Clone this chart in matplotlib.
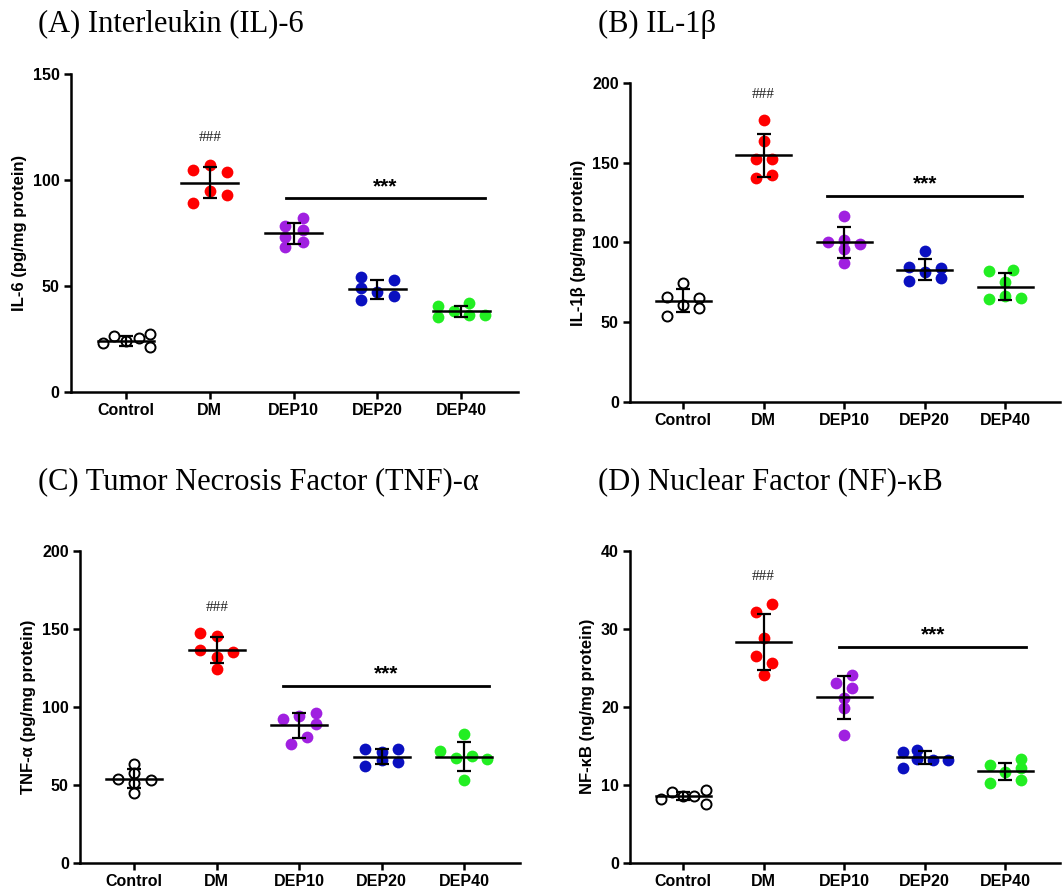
import matplotlib
matplotlib.use("Agg")
import matplotlib.pyplot as plt

groups = ["Control", "DM", "DEP10", "DEP20", "DEP40"]
colors = ["white", "#ff0000", "#a020e0", "#0a10c0", "#22ee22"]

# IL-6 (pg/mg protein)
il6_values = [
    [23.1, 26.2, 24.2, 25.3, 27.2, 21.2],
    [104.9, 107.3, 103.8, 94.9, 93.0, 89.1],
    [78.1, 82.0, 73.0, 76.2, 71.0, 68.2],
    [54.2, 49.0, 52.9, 47.1, 45.1, 43.2],
    [40.8, 38.0, 42.1, 35.3, 36.3, 36.3],
]
il6_mean = [24.2, 98.8, 74.8, 48.5, 38.0]
il6_sd = [2.3, 7.5, 5.0, 4.4, 2.75]
il6_jitter = [
    [-0.28, -0.14, 0, 0.15, 0.29, 0.29],
    [-0.2, 0, 0.2, 0, 0.2, -0.2],
    [-0.1, 0.11, -0.1, 0.11, 0.11, -0.1],
    [-0.2, -0.2, 0.2, 0, 0.2, -0.2],
    [-0.27, -0.09, 0.1, -0.27, 0.1, 0.29],
]

# IL-1beta (pg/mg protein)
il1b_values = [
    [65.8, 74.8, 64.9, 60.7, 58.6, 53.8],
    [176.8, 163.8, 152.3, 152.3, 140.7, 142.6],
    [116.9, 100.5, 101.6, 98.8, 95.7, 86.9],
    [94.9, 84.8, 81.3, 84.0, 76.0, 77.9],
    [81.9, 82.7, 75.0, 66.6, 64.3, 64.9],
]
il1b_mean = [63.5, 154.8, 100.1, 82.9, 72.3]
il1b_sd = [7.1, 13.6, 9.7, 6.6, 8.5]
il1b_jitter = [
    [-0.2, 0, 0.2, 0, 0.2, -0.2],
    [0, 0, -0.1, 0.1, -0.1, 0.1],
    [0, -0.2, 0, 0.2, 0, 0],
    [0, -0.2, 0, 0.2, -0.2, 0.2],
    [-0.2, 0.1, 0, 0, -0.2, 0.2],
]

# TNF-alpha (pg/mg protein)
tnf_values = [
    [53.8, 63.0, 57.3, 50.9, 53.0, 44.9],
    [147.0, 145.5, 136.1, 131.8, 135.0, 123.9],
    [92.1, 93.8, 96.2, 88.9, 80.8, 75.9],
    [73.1, 70.7, 73.1, 62.0, 65.8, 64.3],
    [71.4, 82.3, 68.6, 66.9, 66.2, 53.0],
]
tnf_mean = [53.8, 136.5, 88.0, 67.9, 67.9]
tnf_sd = [6.1, 8.3, 8.0, 4.9, 9.4]
tnf_jitter = [
    [-0.2, 0, 0, 0, 0.2, 0],
    [-0.2, 0, -0.2, 0, 0.2, 0],
    [-0.2, 0, 0.2, 0.2, 0.1, -0.1],
    [-0.2, 0, 0.2, -0.2, 0, 0.2],
    [-0.29, 0, 0.1, -0.1, 0.28, 0],
]

# NF-kB (ng/mg protein)
nfkb_values = [
    [8.2, 9.1, 8.5, 8.5, 9.3, 7.5],
    [32.1, 33.2, 28.8, 26.5, 25.6, 24.1],
    [23.1, 24.1, 22.4, 21.1, 19.8, 16.4],
    [14.2, 14.5, 13.3, 13.2, 13.2, 12.2],
    [12.5, 13.3, 11.6, 12.1, 10.2, 10.6],
]
nfkb_mean = [8.55, 28.3, 21.2, 13.5, 11.7]
nfkb_sd = [0.55, 3.65, 2.75, 0.8, 1.15]
nfkb_jitter = [
    [-0.28, -0.14, 0, 0.14, 0.29, 0.29],
    [-0.1, 0.1, 0, -0.1, 0.1, 0],
    [-0.1, 0.1, 0.1, 0, 0, 0],
    [-0.27, -0.1, -0.1, 0.1, 0.29, -0.27],
    [-0.19, 0.2, 0, 0.2, -0.19, 0.2],
]

titles = ["(A) Interleukin (IL)-6", "(B) IL-1\u03b2",
          "(C) Tumor Necrosis Factor (TNF)-\u03b1", "(D) Nuclear Factor (NF)-\u03baB"]
ylabels = ["IL-6 (pg/mg protein)", "IL-1\u03b2 (pg/mg protein)",
           "TNF-\u03b1 (pg/mg protein)", "NF-\u03baB (ng/mg protein)"]
ymax = [150, 200, 200, 40]
ystep = [50, 50, 50, 10]
sig_bar = [(1.905, 4.29, 91.4, 96.9, 120), (1.79, 4.21, 129.2, 136.8, 193),
           (1.80, 4.30, 113.2, 120.9, 163.7), (1.94, 4.26, 27.7, 29.2, 36.7)]

panels = [
    (il6_values, il6_mean, il6_sd, il6_jitter),
    (il1b_values, il1b_mean, il1b_sd, il1b_jitter),
    (tnf_values, tnf_mean, tnf_sd, tnf_jitter),
    (nfkb_values, nfkb_mean, nfkb_sd, nfkb_jitter),
]

rects = [
    [0.0666, 0.5605, 0.4212, 0.3565],
    [0.5932, 0.5497, 0.4049, 0.3570],
    [0.0753, 0.0328, 0.4143, 0.3498],
    [0.5932, 0.0328, 0.4049, 0.3498],
]
title_pos = [(38, 24), (598, 24), (38, 482), (598, 482)]

plt.rcParams["font.family"] = ["Liberation Sans", "DejaVu Sans"]

fig = plt.figure(figsize=(10.62, 8.92), dpi=100)

for k, (vals, means, sds, jit) in enumerate(panels):
    ax = fig.add_axes(rects[k])
    for i in range(len(groups)):
        xs = [i + j for j in jit[i]]
        if i == 0:
            ax.scatter(xs, vals[i], s=52, facecolor="white", edgecolor="black",
                       linewidth=1.4, zorder=2)
        else:
            ax.scatter(xs, vals[i], s=72, color=colors[i], linewidth=0, zorder=2)
        ax.plot([i - 0.34, i + 0.34], [means[i], means[i]], color="black",
                lw=1.8, zorder=3)
        ax.errorbar(i, means[i], yerr=sds[i], fmt="none", ecolor="black",
                    elinewidth=1.6, capsize=5, capthick=1.6, zorder=3)

    x0, x1, yb, ys, yh = sig_bar[k]
    ax.plot([x0, x1], [yb, yb], color="black", lw=2.0)
    ax.text((x0 + x1) / 2, ys, "***", ha="center", va="center",
            fontsize=15, fontweight="bold")
    ax.text(1, yh, "###", ha="center", va="center", fontsize=11,
            family=["Liberation Serif", "DejaVu Serif"], color="#222222")

    ax.set_xlim(-0.66, 4.68)
    ax.set_ylim(0, ymax[k])
    ax.set_yticks(range(0, ymax[k] + 1, ystep[k]))
    ax.set_xticks(range(len(groups)))
    ax.set_xticklabels(groups)
    ax.spines["top"].set_visible(False)
    ax.spines["right"].set_visible(False)
    ax.spines["left"].set_linewidth(1.8)
    ax.spines["bottom"].set_linewidth(1.8)
    ax.tick_params(width=1.8, length=5, labelsize=11.5, pad=3)
    for lab in ax.get_xticklabels() + ax.get_yticklabels():
        lab.set_fontweight("bold")
    ax.set_ylabel(ylabels[k], fontsize=12, fontweight="bold", labelpad=4)

    tx, ty = title_pos[k]
    fig.text(tx / 1062, 1 - ty / 892, titles[k], ha="left", va="center",
             fontsize=22, family=["Liberation Serif", "DejaVu Serif"])

fig.savefig("out.png", dpi=100)
